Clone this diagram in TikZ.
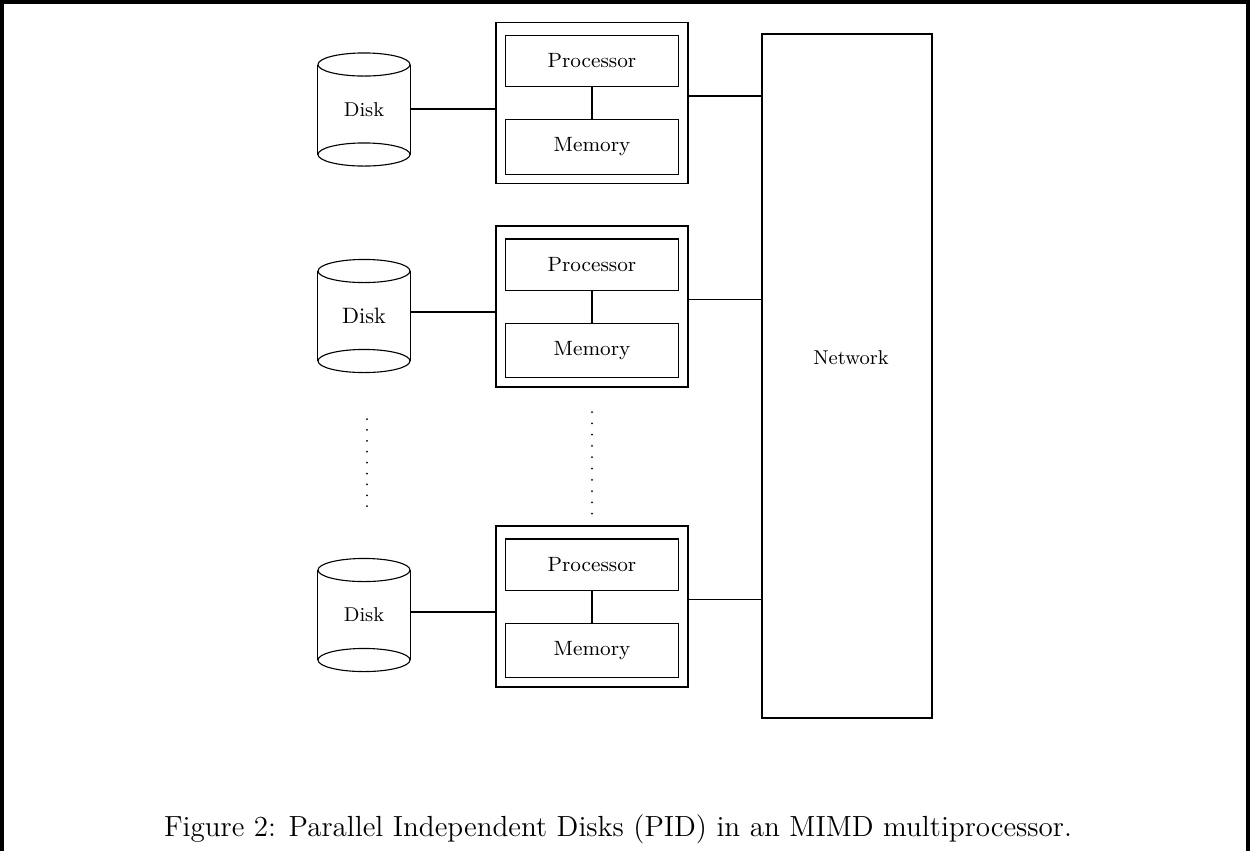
\documentclass[tikz,border=0pt]{standalone}
\usetikzlibrary{positioning,calc}

\begin{document}
\begin{tikzpicture}[x=0.45pt,y=-0.45pt, line width=0.5pt,
    box/.style={draw, minimum width=77.85pt, inner sep=0pt, font=\fontsize{9.3}{11}\selectfont},
    node/.style={draw, minimum width=86.4pt, minimum height=72.45pt, inner sep=0pt},
    disk/.style={minimum width=41.4pt, minimum height=40pt, inner sep=0pt}]
    % page frame (open at the bottom)
    \useasboundingbox (0,0) rectangle (1250,851);
    \draw[line width=1.6pt] (2,851) -- (2,2) -- (1248,2) -- (1248,851);

    % Network
    \node[draw, minimum width=76.5pt, minimum height=307.8pt] (net) at (847,376) {};
    \node[font=\small] (netlabel) at (851,358) {Network};

    % Processor/memory nodes with their disks
    \foreach \i/\y/\dc/\dl/\fs in {1/103/6.5/-0.5/\small, 2/306.5/9.5/-4/\normalsize, 3/606.5/8.5/-3/\small} {
        \node[node] (n\i) at (592,\y) {};
        \node[box, minimum height=23pt] (p\i) at (592,\y-42) {Processor};
        \node[box, minimum height=24.5pt] (m\i) at (592,\y+44) {Memory};
        \draw (p\i) -- (m\i);

        % disk drawn as a cylinder round its label
        \node[disk, font=\fs] (d\i) at (364,\y+\dc) {Disk};
        \draw (d\i.north) ellipse (20.7pt and 5.2pt);
        \draw (d\i.south) ellipse (20.7pt and 5.2pt);
        \draw (d\i.north west) -- (d\i.south west);
        \draw (d\i.north east) -- (d\i.south east);
        \draw ([yshift=-\dl*0.45pt]d\i.east) -- ([yshift=-\dl*0.45pt]d\i.east -| n\i.west);

        % link to the network
        \draw ([yshift=3.15pt]n\i.east) -- ([yshift=3.15pt]n\i.east -| net.west);
    }

    % dotted continuation
    \foreach \k in {0,...,8}
        \fill (367,419+10.9*\k) circle (0.45pt);
    \foreach \k in {0,...,9}
        \fill (592,412+11.3*\k) circle (0.45pt);

    % Caption
    \node[font=\fontsize{13.1}{16}\selectfont] (caption) at (618,829) {Figure 2: Parallel Independent Disks (PID) in an MIMD multiprocessor.};
\end{tikzpicture}
\end{document}
